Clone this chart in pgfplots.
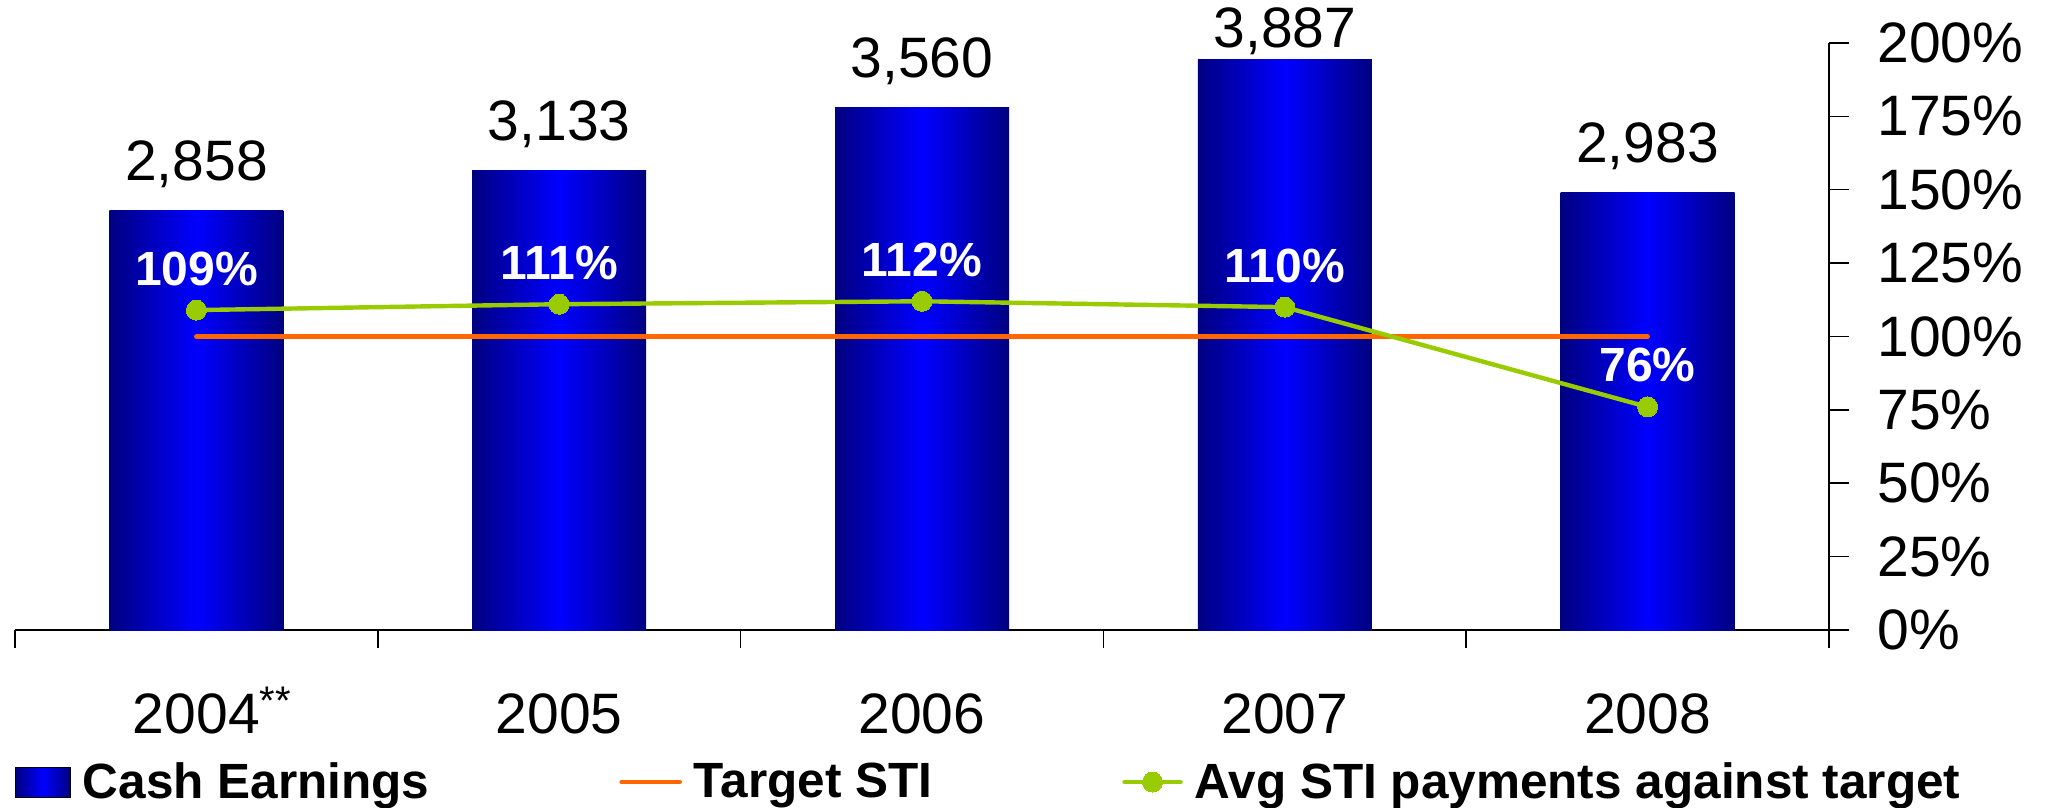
\documentclass[border=0pt]{standalone}
\usepackage{fontspec}
\setmainfont{Liberation Sans}
\usepackage{pgfplots}
\usepackage{pgfplotstable}
\pgfplotsset{compat=1.18}
\pgfplotsset{/pgf/number format/assume math mode=true}

\definecolor{barDark}{RGB}{0,0,128}
\definecolor{barLight}{RGB}{0,0,255}
\definecolor{targetOrange}{RGB}{255,102,0}
\definecolor{avgGreen}{RGB}{153,204,0}

% cash earnings per year; off = gap between bar top and its value label (pt)
\pgfplotstableread{
x val off
0 2858 15
1 3133 15
2 3560 15
3 3887 6
4 2983 15
}\cashtbl

\newcommand{\bigfont}{\fontsize{28.5}{34}\selectfont}

\begin{document}
\begin{tikzpicture}
% bars on the hidden left scale
\begin{axis}[
  scale only axis, width=907pt, height=293.5pt,
  xmin=-0.5, xmax=4.5, ymin=0, ymax=4000,
  enlargelimits=false, clip=false,
  axis x line*=bottom, hide y axis,
  axis line style={black, line width=0.75pt},
  every tick/.style={black, line width=0.75pt},
  tick align=outside,
  xtick={0,1,2,3,4},
  xticklabels={2004\rlap{\textsuperscript{**}},2005,2006,2007,2008},
  major tick length=0pt,
  minor xtick={-0.5,0.5,1.5,2.5,3.5,4.5},
  minor tick length=9pt,
  xticklabel style={font=\bigfont, anchor=base, inner sep=0pt, yshift=-51.5pt},
]
% one plot per year so that every bar gets its own left-to-right shading
\pgfplotsinvokeforeach{0,1,2,3,4}{
\addplot[ybar, bar width=87pt, bar shift=0pt, draw=none,
  left color=barDark, right color=barDark, middle color=barLight,
  restrict x to domain=#1:#1,
  nodes near coords,
  visualization depends on={\thisrow{off} \as \lbloff},
  every node near coord/.append style={font=\bigfont, text=black,
    anchor=base, inner sep=0pt, yshift=\lbloff pt,
    fill opacity=0, text opacity=1},
] table[x=x, y=val] {\cashtbl};
}
\end{axis}

% percentages on the right scale
\begin{axis}[
  scale only axis, width=907pt, height=293.5pt,
  xmin=-0.5, xmax=4.5, ymin=0, ymax=200,
  enlargelimits=false, clip=false,
  hide x axis, axis y line*=right,
  axis line style={black, line width=0.75pt},
  every tick/.style={black, line width=0.75pt},
  tick align=outside, major tick length=10pt,
  ytick={0,25,...,200},
  yticklabel={\pgfmathprintnumber{\tick}\%},
  yticklabel style={font=\bigfont, inner sep=0pt, anchor=west, xshift=14pt},
  legend columns=3,
  legend cell align=left,
  legend style={draw=none, fill=none, at={(0,-0.259)}, anchor=west,
    inner sep=0pt, outer sep=0pt,
    font=\bfseries\fontsize{24.75}{30}\selectfont,
    nodes={inner sep=0pt},
    /tikz/every odd column/.append style={column sep=6pt},
    /tikz/every even column/.append style={column sep=95pt}},
]
\addlegendimage{legend image code/.code={
  \fill[left color=barDark, right color=barDark, middle color=barLight]
    (0pt,-7.5pt) rectangle (27.5pt,7.5pt);}}
\addlegendentry{Cash Earnings}

\addplot[targetOrange, line width=2.3pt, line cap=round, no marks,
  legend image code/.code={\draw[targetOrange, line width=2.3pt, line cap=round]
    (0pt,0pt) -- (29pt,0pt);}]
  coordinates {(0,100) (1,100) (2,100) (3,100) (4,100)};
\addlegendentry{Target STI}

\addplot[avgGreen, line width=2.2pt, line cap=round,
  mark=*, mark size=5pt, mark options={fill=avgGreen, draw=avgGreen, line width=0pt},
  nodes near coords={\pgfmathprintnumber{\pgfplotspointmeta}\%},
  point meta=y,
  every node near coord/.append style={font=\bfseries\fontsize{24}{29}\selectfont,
    text=white, anchor=base, inner sep=0pt, yshift=12.5pt},
  legend image code/.code={\draw[avgGreen, line width=2.2pt, line cap=round,
    mark=*, mark size=5pt, mark repeat=2, mark phase=2,
    mark options={fill=avgGreen, draw=avgGreen, line width=0pt}]
    plot coordinates {(0pt,0pt) (14pt,0pt) (28pt,0pt)};}]
  coordinates {(0,109) (1,111) (2,112) (3,110) (4,76)};
\addlegendentry{Avg STI payments against target}
\end{axis}

\path[use as bounding box]
  ([xshift=-7.5pt, yshift=-89pt]current axis.south west)
  rectangle ([xshift=111pt, yshift=21.5pt]current axis.north east);
\end{tikzpicture}
\end{document}
